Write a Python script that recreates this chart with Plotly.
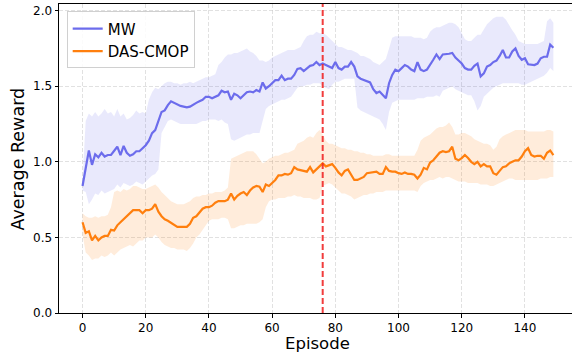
import plotly.graph_objects as go

episodes = list(range(150))

mw_mean = [
    0.84, 0.95, 1.075, 0.98, 1.05, 1.03, 1.06, 1.035, 1.045, 1.045,
    1.07, 1.10, 1.045, 1.105, 1.06, 1.04, 1.05, 1.07, 1.07, 1.09,
    1.11, 1.14, 1.19, 1.21, 1.27, 1.33, 1.34, 1.375, 1.40, 1.39,
    1.375, 1.37, 1.365, 1.36, 1.365, 1.38, 1.39, 1.40, 1.41, 1.43,
    1.43, 1.42, 1.43, 1.44, 1.47, 1.46, 1.465, 1.41, 1.45, 1.44,
    1.42, 1.44, 1.46, 1.465, 1.46, 1.475, 1.465, 1.525, 1.485, 1.50,
    1.52, 1.54, 1.54, 1.57, 1.54, 1.55, 1.55, 1.575, 1.615, 1.62,
    1.60, 1.62, 1.635, 1.64, 1.66, 1.64, 1.65, 1.64, 1.63, 1.62,
    1.66, 1.62, 1.61, 1.63, 1.63, 1.66, 1.63, 1.565, 1.55, 1.54,
    1.53, 1.525, 1.48, 1.455, 1.465, 1.44, 1.42, 1.52, 1.575, 1.61,
    1.60, 1.62, 1.64, 1.63, 1.61, 1.60, 1.66, 1.61, 1.60, 1.61,
    1.64, 1.675, 1.71, 1.68, 1.71, 1.71, 1.715, 1.72, 1.69, 1.67,
    1.65, 1.62, 1.61, 1.61, 1.635, 1.65, 1.565, 1.585, 1.63, 1.64,
    1.66, 1.67, 1.70, 1.74, 1.69, 1.69, 1.73, 1.75, 1.70, 1.675,
    1.685, 1.645, 1.64, 1.64, 1.65, 1.685, 1.695, 1.695, 1.775, 1.755,
]
mw_upper = [
    0.88, 1.27, 1.32, 1.30, 1.33, 1.30, 1.32, 1.35, 1.32, 1.33,
    1.30, 1.35, 1.30, 1.32, 1.28, 1.29, 1.31, 1.34, 1.32, 1.33,
    1.32, 1.41, 1.46, 1.49, 1.48, 1.50, 1.52, 1.53, 1.53, 1.52,
    1.52, 1.51, 1.52, 1.52, 1.53, 1.52, 1.53, 1.54, 1.55, 1.56,
    1.56, 1.57, 1.58, 1.64, 1.66, 1.69, 1.71, 1.71, 1.72, 1.72,
    1.73, 1.74, 1.75, 1.73, 1.72, 1.70, 1.67, 1.67, 1.66, 1.67,
    1.69, 1.70, 1.71, 1.72, 1.73, 1.74, 1.74, 1.74, 1.75, 1.76,
    1.80, 1.83, 1.84, 1.84, 1.86, 1.85, 1.85, 1.84, 1.82, 1.80,
    1.78, 1.76, 1.76, 1.75, 1.74, 1.74, 1.73, 1.72, 1.70, 1.70,
    1.69, 1.68, 1.66, 1.65, 1.64, 1.66, 1.68, 1.75, 1.82, 1.83,
    1.83, 1.83, 1.83, 1.83, 1.83, 1.82, 1.82, 1.82, 1.81, 1.82,
    1.86, 1.88, 1.89, 1.89, 1.90, 1.91, 1.92, 1.92, 1.91, 1.89,
    1.85, 1.81, 1.80, 1.80, 1.82, 1.84, 1.84, 1.88, 1.91, 1.93,
    1.95, 1.96, 1.96, 1.96, 1.94, 1.90, 1.87, 1.84, 1.80, 1.79,
    1.78, 1.78, 1.78, 1.78, 1.78, 1.79, 1.80, 1.93, 1.95, 1.92,
]
mw_lower = [
    0.81, 0.80, 0.72, 0.75, 0.79, 0.78, 0.81, 0.79, 0.80, 0.81,
    0.82, 0.85, 0.83, 0.86, 0.85, 0.84, 0.85, 0.87, 0.86, 0.85,
    0.87, 0.89, 0.91, 0.92, 0.95, 1.19, 1.23, 1.27, 1.28, 1.27,
    1.26, 1.25, 1.25, 1.25, 1.25, 1.25, 1.25, 1.26, 1.27, 1.27,
    1.28, 1.28, 1.28, 1.27, 1.28, 1.26, 1.25, 1.15, 1.14, 1.15,
    1.16, 1.17, 1.18, 1.18, 1.19, 1.19, 1.19, 1.27, 1.35, 1.37,
    1.38, 1.39, 1.40, 1.41, 1.41, 1.42, 1.43, 1.46, 1.49, 1.50,
    1.50, 1.51, 1.51, 1.52, 1.52, 1.52, 1.50, 1.49, 1.48, 1.51,
    1.53, 1.53, 1.54, 1.55, 1.55, 1.55, 1.55, 1.36, 1.34, 1.33,
    1.32, 1.31, 1.30, 1.29, 1.28, 1.25, 1.21, 1.33, 1.39, 1.40,
    1.41, 1.41, 1.41, 1.41, 1.41, 1.41, 1.42, 1.42, 1.42, 1.43,
    1.43, 1.43, 1.44, 1.43, 1.47, 1.48, 1.49, 1.50, 1.48, 1.47,
    1.46, 1.45, 1.44, 1.44, 1.40, 1.34, 1.37, 1.43, 1.45, 1.47,
    1.49, 1.50, 1.51, 1.52, 1.52, 1.52, 1.52, 1.52, 1.52, 1.51,
    1.51, 1.52, 1.53, 1.54, 1.55, 1.56, 1.57, 1.59, 1.62, 1.60,
]

das_mean = [
    0.60, 0.53, 0.54, 0.48, 0.51, 0.48, 0.50, 0.51, 0.51, 0.55,
    0.545, 0.58, 0.60, 0.62, 0.64, 0.66, 0.68, 0.68, 0.68, 0.66,
    0.68, 0.68, 0.69, 0.72, 0.67, 0.64, 0.62, 0.61, 0.595, 0.58,
    0.57, 0.57, 0.57, 0.57, 0.59, 0.63, 0.64, 0.665, 0.69, 0.70,
    0.70, 0.71, 0.73, 0.74, 0.74, 0.74, 0.75, 0.79, 0.75, 0.775,
    0.79, 0.80, 0.78, 0.81, 0.83, 0.84, 0.835, 0.80, 0.85, 0.84,
    0.86, 0.88, 0.91, 0.91, 0.92, 0.915, 0.925, 0.965, 0.95, 0.945,
    0.935, 0.935, 0.965, 0.93, 0.95, 0.97, 0.99, 0.97, 0.98, 0.985,
    0.96, 0.93, 0.91, 0.94, 0.95, 0.915, 0.88, 0.88, 0.89, 0.90,
    0.925, 0.93, 0.93, 0.935, 0.92, 0.92, 0.965, 0.94, 0.935, 0.935,
    0.925, 0.92, 0.93, 0.92, 0.92, 0.915, 0.89, 0.915, 0.96, 0.95,
    0.995, 1.01, 1.035, 1.06, 1.07, 1.065, 1.07, 1.10, 1.02, 1.01,
    1.025, 1.045, 1.025, 1.00, 0.985, 1.00, 0.97, 0.985, 0.97, 0.97,
    0.925, 0.915, 0.94, 0.965, 0.97, 0.99, 1.00, 1.01, 1.01, 1.035,
    1.07, 1.09, 1.045, 1.035, 1.04, 1.04, 1.02, 1.06, 1.075, 1.045,
]
das_upper = [
    0.66, 0.64, 0.63, 0.63, 0.64, 0.63, 0.64, 0.64, 0.65, 0.70,
    0.80, 0.81, 0.80, 0.82, 0.81, 0.82, 0.84, 0.84, 0.83, 0.82,
    0.82, 0.83, 0.84, 0.85, 0.83, 0.80, 0.78, 0.76, 0.74, 0.73,
    0.72, 0.72, 0.72, 0.73, 0.74, 0.76, 0.77, 0.77, 0.78, 0.78,
    0.79, 0.79, 0.80, 0.80, 0.80, 0.81, 0.83, 1.02, 1.03, 1.04,
    1.05, 1.06, 1.07, 1.07, 1.07, 1.05, 1.02, 0.99, 1.00, 1.02,
    1.03, 1.04, 1.04, 1.05, 1.06, 1.06, 1.07, 1.08, 1.12, 1.13,
    1.14, 1.16, 1.17, 1.16, 1.19, 1.21, 1.18, 1.14, 1.12, 1.12,
    1.11, 1.10, 1.09, 1.09, 1.08, 1.08, 1.07, 1.07, 1.06, 1.06,
    1.05, 1.05, 1.04, 1.04, 1.04, 1.04, 1.05, 1.05, 1.04, 1.04,
    1.04, 1.04, 1.04, 1.04, 1.04, 1.04, 1.08, 1.14, 1.16, 1.17,
    1.18, 1.20, 1.22, 1.23, 1.23, 1.24, 1.26, 1.23, 1.18, 1.18,
    1.19, 1.19, 1.18, 1.17, 1.15, 1.14, 1.13, 1.12, 1.12, 1.11,
    1.08, 1.10, 1.15, 1.17, 1.18, 1.19, 1.20, 1.21, 1.21, 1.21,
    1.21, 1.20, 1.20, 1.20, 1.20, 1.20, 1.20, 1.21, 1.21, 1.20,
]
das_lower = [
    0.52, 0.40, 0.38, 0.35, 0.36, 0.36, 0.38, 0.37, 0.38, 0.40,
    0.38, 0.40, 0.42, 0.43, 0.44, 0.45, 0.44, 0.46, 0.48, 0.48,
    0.50, 0.50, 0.50, 0.52, 0.50, 0.47, 0.45, 0.44, 0.43, 0.43,
    0.42, 0.42, 0.42, 0.41, 0.43, 0.46, 0.50, 0.52, 0.55, 0.58,
    0.61, 0.62, 0.62, 0.62, 0.63, 0.63, 0.62, 0.56, 0.56, 0.57,
    0.58, 0.58, 0.59, 0.59, 0.59, 0.59, 0.60, 0.62, 0.70, 0.74,
    0.75, 0.75, 0.76, 0.76, 0.76, 0.77, 0.77, 0.78, 0.77, 0.77,
    0.76, 0.76, 0.76, 0.75, 0.75, 0.76, 0.84, 0.85, 0.86, 0.85,
    0.83, 0.81, 0.79, 0.79, 0.78, 0.77, 0.75, 0.76, 0.77, 0.78,
    0.78, 0.79, 0.79, 0.80, 0.80, 0.80, 0.81, 0.81, 0.81, 0.81,
    0.81, 0.81, 0.81, 0.81, 0.81, 0.81, 0.80, 0.84, 0.86, 0.87,
    0.88, 0.88, 0.89, 0.90, 0.89, 0.90, 0.90, 0.89, 0.88, 0.87,
    0.87, 0.87, 0.86, 0.86, 0.86, 0.86, 0.85, 0.85, 0.85, 0.84,
    0.84, 0.85, 0.86, 0.87, 0.88, 0.89, 0.89, 0.88, 0.88, 0.88,
    0.88, 0.88, 0.88, 0.88, 0.88, 0.89, 0.89, 0.89, 0.90, 0.90,
]

marker_episode = 76
series_names = ["MW", "DAS-CMOP"]
x_ticks = [0, 20, 40, 60, 80, 100, 120, 140]
y_ticks = [0.0, 0.5, 1.0, 1.5, 2.0]

MW_COLOR = "rgb(108,108,236)"
MW_FILL = "rgba(108,108,236,0.15)"
DAS_COLOR = "rgb(255,127,14)"
DAS_FILL = "rgba(255,127,14,0.15)"
GRID = "rgba(200,200,200,0.55)"

fig = go.Figure()

def add_band(upper, lower, fill):
    fig.add_trace(go.Scatter(x=episodes, y=upper, mode="lines", line=dict(width=0),
                             showlegend=False, hoverinfo="skip"))
    fig.add_trace(go.Scatter(x=episodes, y=lower, mode="lines", line=dict(width=0),
                             fill="tonexty", fillcolor=fill, showlegend=False, hoverinfo="skip"))

add_band(mw_upper, mw_lower, MW_FILL)
add_band(das_upper, das_lower, DAS_FILL)

fig.add_trace(go.Scatter(x=episodes, y=mw_mean, mode="lines", name=series_names[0],
                         line=dict(color=MW_COLOR, width=2.2)))
fig.add_trace(go.Scatter(x=episodes, y=das_mean, mode="lines", name=series_names[1],
                         line=dict(color=DAS_COLOR, width=2.2)))

fig.add_shape(type="line", xref="x", yref="paper", x0=marker_episode, x1=marker_episode,
              y0=0, y1=1, line=dict(color="rgba(240,40,40,0.9)", width=2, dash="6px,3px"))

tick_font = dict(family="DejaVu Sans", size=12, color="black")

fig.update_layout(
    width=572, height=354,
    margin=dict(l=59, r=0, t=4.3, b=40.7),
    paper_bgcolor="white", plot_bgcolor="white",
    font=dict(family="DejaVu Sans", color="black"),
    showlegend=True,
    legend=dict(x=0.015, y=0.976, xanchor="left", yanchor="top", traceorder="normal",
                bgcolor="rgba(255,255,255,0.85)", bordercolor="#d0d0d0", borderwidth=1,
                font=dict(family="DejaVu Sans", size=15, color="black"),
                tracegroupgap=0),
    xaxis=dict(range=[-7.45, 154.9], tickvals=x_ticks, ticks="outside", ticklen=3.5,
               tickwidth=0.8, tickcolor="black", showline=True, linecolor="black",
               linewidth=1, mirror=True, showgrid=True, gridcolor=GRID,
               griddash="4px,2px", gridwidth=0.8, zeroline=False, tickfont=tick_font),
    yaxis=dict(range=[0, 2.044], tickvals=y_ticks, tickformat=".1f", ticks="outside",
               ticklen=3.5, tickwidth=0.8, tickcolor="black", showline=True,
               linecolor="black", linewidth=1, showgrid=True,
               gridcolor=GRID, griddash="4px,2px", gridwidth=0.8,
               zeroline=False, tickfont=tick_font),
    annotations=[
        dict(text="Episode", xref="x", yref="paper", x=74.5, y=-0.1317,
             xanchor="center", yanchor="bottom", showarrow=False, borderpad=0,
             font=dict(family="DejaVu Sans", size=16.5, color="black")),
        dict(text="Average Reward", xref="paper", yref="paper", x=-0.080, y=0.5,
             xanchor="center", yanchor="middle", textangle=-90, showarrow=False,
             font=dict(family="DejaVu Sans", size=17.5, color="black")),
    ],
)

fig.write_html("out.html")
